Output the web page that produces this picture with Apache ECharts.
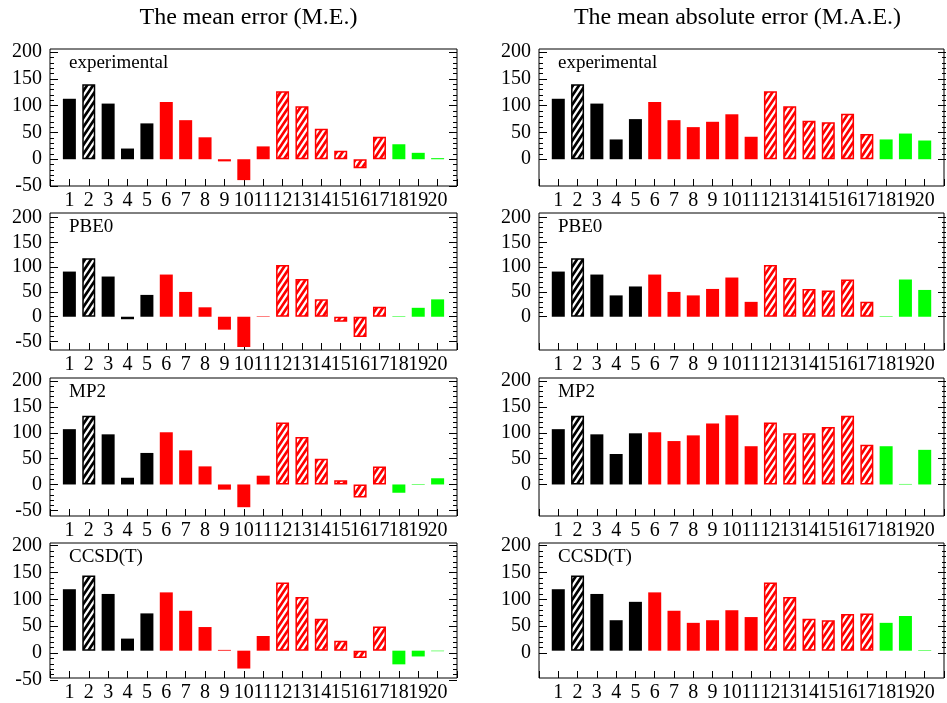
<!DOCTYPE html>
<html>
<head>
<meta charset="utf-8">
<script src="https://cdn.jsdelivr.net/npm/echarts@6/dist/echarts.min.js"></script>
<style>html,body{margin:0;padding:0;background:#fff}#c{width:947px;height:703px}</style>
</head>
<body>
<div id="c"></div>
<script>
const categories = [1,2,3,4,5,6,7,8,9,10,11,12,13,14,15,16,17,18,19,20];
const columnTitles = ['The mean error (M.E.)', 'The mean absolute error (M.A.E.)'];
const methods = ['experimental', 'PBE0', 'MP2', 'CCSD(T)'];

const meExp   = [113,140,104,20,67,107,73,41,-4,-39,24,127,99,57,16,-17,42,28,12,2];
const maeExp  = [113,140,104,37,75,107,73,60,70,84,42,127,99,72,69,85,47,37,48,35];
const mePBE0  = [91,118,81,-5,44,85,50,19,-26,-61,1,104,76,35,-10,-41,20,1,18,35];
const maePBE0 = [91,118,85,43,61,85,50,43,56,79,30,104,78,56,53,75,30,1,75,54];
const meMP2   = [107,133,97,13,61,101,66,35,-10,-44,17,120,92,50,8,-25,35,-16,-1,12];
const maeMP2  = [107,133,97,59,99,101,84,95,118,134,74,120,99,99,111,133,77,74,1,67];
const meCCSD  = [117,143,108,23,71,111,76,45,1.5,-34,28,130,102,61,19,-14,46,-26,-11,-1];
const maeCCSD = [117,143,108,58,93,111,76,53,58,77,64,130,102,61,58,70,71,53,66,1];

const yTicksME = [-50, 200];
const yTicksMAE = [0, 200];

const meSeries = [meExp, mePBE0, meMP2, meCCSD];
const maeSeries = [maeExp, maePBE0, maeMP2, maeCCSD];

// layout
const colLeft = [50, 539];
const plotW = 407;
const rowTop = [49, 213, 378, 543];
const rowH = [137, 137, 138, 138];
const rowRange = [[-50, 206], [-67, 209], [-61, 206], [-52, 205]];

const FONT = '"Liberation Serif", "Times New Roman", serif';
const BLACK = '#000000', RED = '#ff0000', GREEN = '#00ff00';
const hatched = [2, 12, 13, 14, 15, 16, 17];

function makeHatch(color) {
  const w = 6, h = 9;
  const cv = document.createElement('canvas');
  cv.width = w; cv.height = h;
  const ctx = cv.getContext('2d');
  ctx.fillStyle = '#fff';
  ctx.fillRect(0, 0, w, h);
  ctx.strokeStyle = color;
  ctx.lineWidth = 2.7;
  ctx.beginPath();
  for (let k = -1; k <= 1; k++) {
    ctx.moveTo(k * w - w, 2 * h);
    ctx.lineTo(k * w + 2 * w, -h);
  }
  ctx.stroke();
  return { image: cv, repeat: 'repeat' };
}
const hatchBlack = makeHatch(BLACK);
const hatchRed = makeHatch(RED);

function colorOf(c) {
  if (c <= 5) return BLACK;
  if (c <= 17) return RED;
  return GREEN;
}

const grid = [], xAxis = [], yAxis = [], series = [], graphic = [];

columnTitles.forEach((t, col) => {
  graphic.push({
    type: 'text', x: colLeft[col] + plotW / 2 - 5, y: 18,
    style: { text: t, align: 'center', verticalAlign: 'middle', font: '24px ' + FONT, fill: '#000' }
  });
});

for (let col = 0; col < 2; col++) {
  for (let row = 0; row < 4; row++) {
    const left = colLeft[col], top = rowTop[row], h = rowH[row];
    const [mn, mx] = rowRange[row];
    const vals = col === 0 ? meSeries[row] : maeSeries[row];
    const ticks = col === 0 ? yTicksME : yTicksMAE;

    const gi = grid.length;
    grid.push({ left: left, top: top, width: plotW, height: h, show: true,
      borderColor: '#000', borderWidth: 1, backgroundColor: 'transparent' });
    const xi = xAxis.length;
    xAxis.push({
      gridIndex: gi, type: 'value', min: 0, max: 21, interval: 1,
      axisLine: { show: false, onZero: false },
      axisTick: { show: true, inside: true, length: 7, lineStyle: { color: '#000', width: 1 } },
      axisLabel: { color: '#000', fontSize: 20, fontFamily: FONT, margin: 5,
        formatter: v => (v >= 1 && v <= 20) ? String(v) : '' },
      splitLine: { show: false }
    });
    const yi = yAxis.length;
    yAxis.push({ gridIndex: gi, type: 'value', min: mn, max: mx, show: false, splitLine: { show: false } });

    series.push({
      type: 'bar', xAxisIndex: xi, yAxisIndex: yi, barWidth: 13, animation: false,
      data: categories.map((c, i) => {
        const colr = colorOf(c);
        const isH = hatched.indexOf(c) >= 0;
        return {
          value: [c, vals[i]],
          itemStyle: isH
            ? { color: colr === BLACK ? hatchBlack : hatchRed, borderColor: colr, borderWidth: 1.5 }
            : { color: colr, borderWidth: 0 }
        };
      })
    });

    const lo = ticks[0], hi = ticks[1];
    const pxPer = h / (mx - mn);
    const tgi = grid.length;
    grid.push({ left: left, top: top + (mx - hi) * pxPer, width: plotW, height: (hi - lo) * pxPer, show: false });
    xAxis.push({ gridIndex: tgi, type: 'value', min: 0, max: 1, show: false });
    const common = {
      gridIndex: tgi, type: 'value', min: lo, max: hi, interval: 50,
      axisLine: { show: false },
      axisTick: { show: true, inside: true, length: 8, lineStyle: { color: '#000', width: 1 } },
      minorTick: { show: true, splitNumber: 5, length: 4, lineStyle: { color: '#000', width: 1 } },
      splitLine: { show: false }, minorSplitLine: { show: false }
    };
    yAxis.push(Object.assign({}, common, { position: 'left',
      axisLabel: { color: '#000', fontSize: 20, fontFamily: FONT, margin: 8 } }));
    yAxis.push(Object.assign({}, common, { position: 'right', axisLabel: { show: false } }));

    graphic.push({
      type: 'text', x: left + 19, y: top + 14,
      style: { text: methods[row], verticalAlign: 'middle', font: '19px ' + FONT, fill: '#000' }
    });
  }
}

const chart = echarts.init(document.getElementById('c'), null, { renderer: 'canvas' });
chart.setOption({
  animation: false,
  backgroundColor: '#fff',
  grid: grid, xAxis: xAxis, yAxis: yAxis, series: series, graphic: graphic
});
</script>
</body>
</html>
